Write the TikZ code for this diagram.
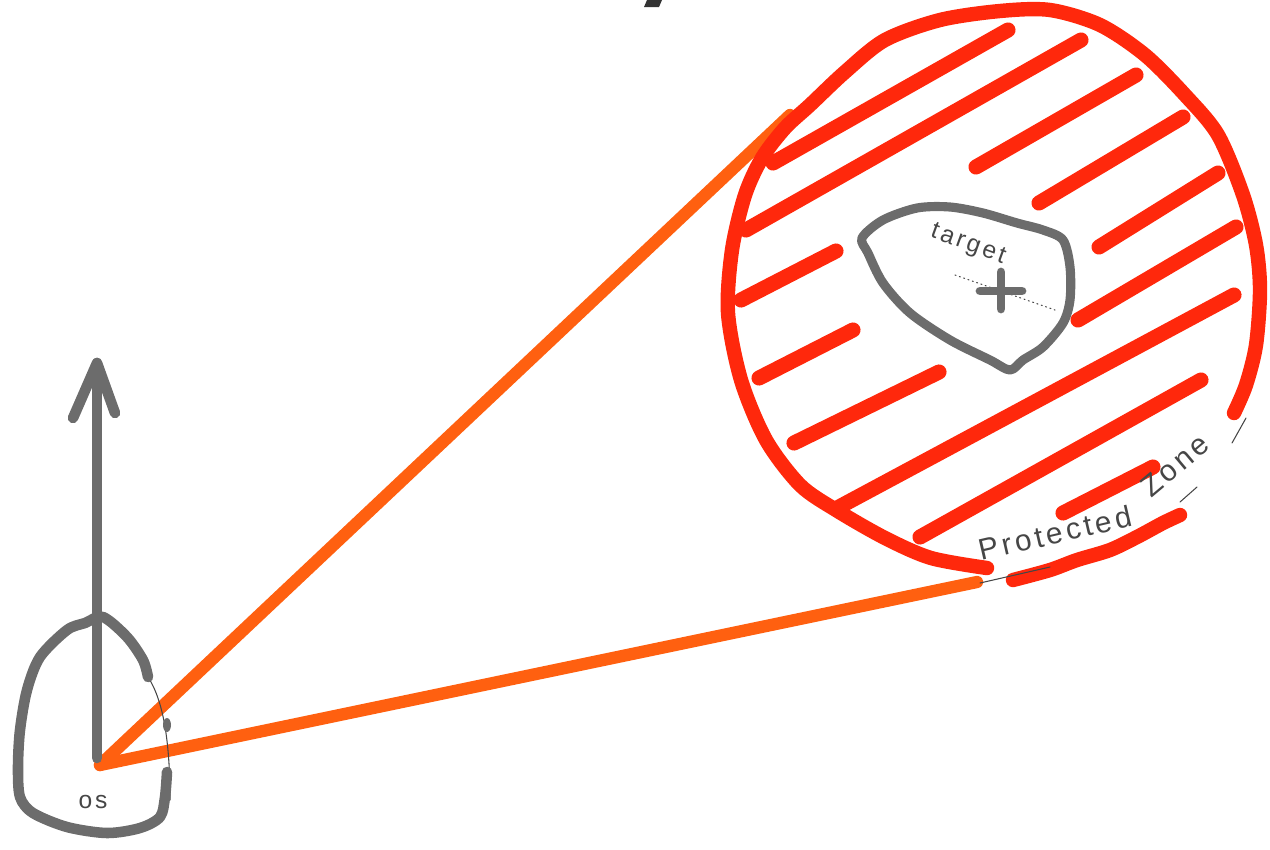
\documentclass[tikz,border=0pt]{standalone}
\usepackage{fontspec}
\newfontfamily\handfont[LetterSpace=12]{Liberation Sans}
\definecolor{zonered}{RGB}{255,40,12}
\definecolor{rayorange}{RGB}{255,96,16}
\definecolor{pengray}{RGB}{108,108,108}
\definecolor{inkgray}{RGB}{70,70,70}
\begin{document}
\begin{tikzpicture}[x=0.02cm,y=-0.02cm,
  hatch/.style={draw=zonered,line width=8.6pt,line cap=round},
  zoneline/.style={draw=zonered,line width=8.2pt,line cap=round,line join=round},
  ray/.style={draw=rayorange,line width=7pt,line cap=round},
  penline/.style={draw=pengray,line width=6pt,line cap=round,line join=round},
  pencil/.style={draw=inkgray,line width=0.6pt,line cap=round},
  handlabel/.style={text=inkgray,inner sep=0pt}]
\useasboundingbox (0,0) rectangle (1270,849);
% top blob
\fill[black!80] (644,7)--(647,0)--(662,0)--(659,7)--cycle;
% rays
\coordinate (os) at (100,765);
\coordinate (c1) at (790,115);
\coordinate (c2) at (977,582);
\draw[ray] (os) -- (c1);
\draw[ray] (os) -- (c2);
% protected zone outline
\draw[zoneline] plot[smooth] coordinates {(987,568)(931,558)(885,538)(836,510)(800,485)(766,440)(741,380)(728,313)(732,250)(745,195)(762,158)(785,128)(810,105)(845,72)(885,40)(940,20)(1000,11)(1050,10)(1100,25)(1145,55)(1185,95)(1218,135)(1243,195)(1256,245)(1260,290)(1256,345)(1246,385)(1234,413)};
\draw[zoneline] plot[smooth] coordinates {(1013,580)(1050,570)(1077,560)(1110,550)(1137,537)(1163,523)(1180,515)};
% hatching
\foreach \xa/\ya/\xb/\yb in {773/163/1008/30, 746/230/1081/40, 976/167/1136/75, 1039/203/1183/117, 1099/247/1218/173, 741/300/836/251, 1078/320/1236/227, 759/378/853/330, 794/443/939/372, 839/507/1234/295, 920/537/1201/380, 1063/513/1153/467}
  \draw[hatch] (\xa,\ya) -- (\xb,\yb);
% pencil marks
\draw[pencil] (980,583) -- (1050,567);
\draw[pencil] (1197,487) -- (1180,502);
\draw[pencil] (1246,418) -- (1232,443);
\draw[pencil,dotted] (955,275) -- (1055,310);
\draw[pencil] (148,677) .. controls (163,700) and (170,740) .. (170,800);
% target
\draw[draw=pengray,line width=5.2pt,line join=round] plot[smooth cycle] coordinates {(862,238)(883,220)(917,208)(950,207)(983,213)(1017,223)(1043,230)(1063,240)(1070,267)(1070,300)(1063,323)(1043,347)(1023,360)(1010,370)(990,360)(950,340)(910,313)(883,283)(868,253)};
\draw[penline,line width=5pt] (980,291) -- (1022,291);
\draw[penline,line width=5pt] (1001,272) -- (1001,309);
\node[handlabel,font=\handfont\fontsize{14}{16}\selectfont,rotate=-20] (tlabel) at (968,245) {target};
% protected zone label (follows the arc)
\node[handlabel,font=\handfont\fontsize{17}{20}\selectfont,rotate=13,anchor=base west] (plabel) at (981,561) {Protected};
\node[handlabel,font=\handfont\fontsize{17}{20}\selectfont,rotate=40,anchor=base west] (zlabel) at (1151,499) {Zone};
% os
\draw[penline] plot[smooth] coordinates {(148,677)(143,660)(127,637)(103,617)(85,623)(67,630)(40,657)(27,690)(20,730)(18,767)(20,797)(33,813)(67,827)(107,833)(140,828)(160,817)(165,797)(167,772)};
\fill[pengray] (167,725) ellipse (4 and 7);
\coordinate (abase) at (97,758);
\coordinate (atip) at (97,363);
\draw[penline] (abase) -- (atip);
\draw[penline] (73,418) -- (atip) -- (115,413);
\node[handlabel,font=\handfont\fontsize{14}{16}\selectfont] (oslabel) at (93,802) {os};
\end{tikzpicture}
\end{document}
